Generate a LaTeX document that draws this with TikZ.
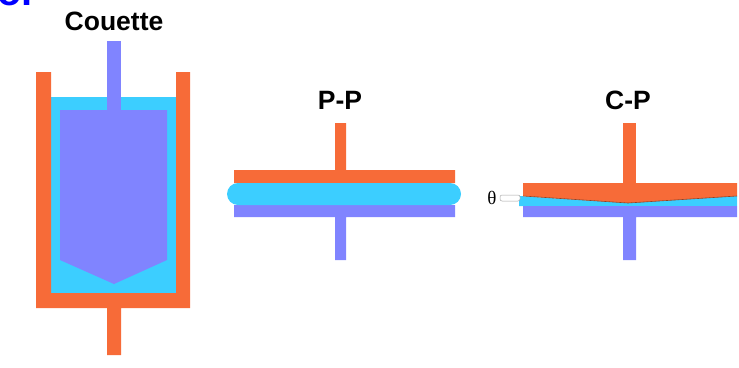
\documentclass[tikz,border=0pt]{standalone}
\usepackage{fontspec}
\setsansfont{Liberation Sans}
\newfontfamily\anglefont{Liberation Serif}
\usepackage{tikz}
\definecolor{Cup}{RGB}{247,107,56}
\definecolor{Fluid}{RGB}{60,206,255}
\definecolor{Bob}{RGB}{128,132,255}
\tikzstyle{cup} = [fill=Cup]
\tikzstyle{fluid} = [fill=Fluid]
\tikzstyle{bob} = [fill=Bob]
\tikzstyle{lbl} = [font=\sffamily\bfseries\fontsize{26.5}{26.5}\selectfont]

\begin{document}
\begin{tikzpicture}[x=1pt,y=-1pt]
      \useasboundingbox (0,0) rectangle (739,367);
      \node[text=blue,font=\sffamily\bfseries\fontsize{40}{40}\selectfont,anchor=base west,inner sep=0] (head) at (-3,5) {or};
      % couette cell: cup, fluid, bob
      \fill[fluid](51,97)rectangle(176,293);
      \fill[cup](36,72)rectangle(51,308)(176,72)rectangle(190,308)(36,293)rectangle(190,308)(107,308)rectangle(121,355);
      \fill[bob](60,110)--(167,110)--(167,260)--(114,284)--(60,260)--cycle;
      \fill[bob](107,41)rectangle(121,110);
      \node[lbl] (couette) at (114,21) {Couette};
      % parallel plates
      \fill[cup](234,170)rectangle(455,183)(335,123)rectangle(346,170);
      \fill[bob](234,205)rectangle(455,217)(335,217)rectangle(346,260);
      \fill[fluid,rounded corners=11pt](227,183)rectangle(461,205);
      \node[lbl] (pp) at (340,100) {P-P};
      % cone and plate
      \fill[fluid](519,196)--(628,203)--(737,196)--(737,206)--(519,206)--cycle;
      \fill[cup](523,183)--(737,183)--(737,196)--(628,203)--(523,196)--cycle;
      \draw[Cup!60!black,line width=.6pt](523,196)--(628,203)--(737,196);
      \fill[cup](623,123)rectangle(636,183);
      \fill[bob](523,206)rectangle(737,217)(623,217)rectangle(636,260);
      \node[lbl] (cp) at (628,100) {C-P};
      \draw[gray!70,fill=white,line width=.5pt,rounded corners=2pt](500,195)rectangle(520,201);
      \node[font=\anglefont\fontsize{19}{19}\selectfont,inner sep=0] (theta) at (492,198) {θ};
\end{tikzpicture}
\end{document}
